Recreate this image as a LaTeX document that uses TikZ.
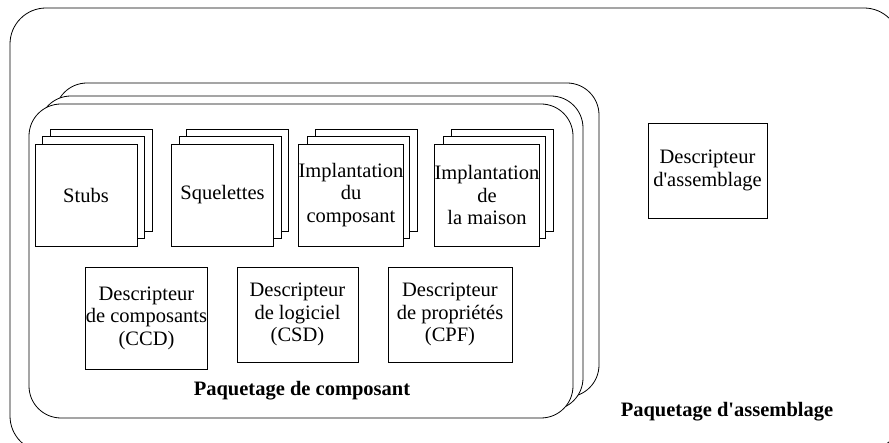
\documentclass[tikz,border=0pt]{standalone}
\usepackage{fontspec}
\newfontfamily\ser{Liberation Serif}
\begin{document}
\begin{tikzpicture}[x=1pt,y=-1pt,
  txt/.style={font=\ser\fontsize{20.5}{22.5}\selectfont, align=center},
  lbl/.style={font=\ser\bfseries\fontsize{20.5}{22.5}\selectfont, inner sep=0pt},
  doc/.style={draw, fill=white, line width=0.8pt, minimum width=102pt, minimum height=102pt, inner sep=0pt, txt},
  desc/.style={draw, fill=white, line width=0.8pt, inner sep=0pt, txt},
  pkg/.style={draw, fill=white, rounded corners=32pt, line width=0.8pt, minimum width=544pt, minimum height=314pt, inner sep=0pt},
  outerbox/.style={draw, rounded corners=36pt, line width=0.8pt, minimum width=890pt, minimum height=444pt, inner sep=0pt}]
\useasboundingbox (0,0) rectangle (889,443);
% outer assembly package
\node[outerbox] (asm) at (455,230) {};
% component package stack
\node[pkg] (pkgC) at (327,240) {};
\node[pkg] (pkgB) at (311,253) {};
\node[pkg] (pkgA) at (301,261) {};
% document stacks
\foreach \n/\cx in {stubs/86, sq/222.5, impc/351, impm/487} {
  \node[doc] (\n3) at (\cx+15,180) {};
  \node[doc] (\n2) at (\cx+7.5,187.5) {};
}
\node[doc] (stubs) at (86,195) {Stubs};
\node[doc] (sq) at (222.5,195) {Squelettes};
\node[doc] (impc) at (351,195) {\raisebox{0pt}[0pt][0pt]{}Implantation\\du\\composant};
\node[doc] (impm) at (487,195) {Implantation\\de\\la maison};
% descriptors
\node[desc, minimum width=119pt, minimum height=102pt] (ccd) at (146.5,318) {Descripteur\\de composants\\(CCD)};
\node[desc, minimum width=121pt, minimum height=95pt] (csd) at (297.5,314.5) {Descripteur\\de logiciel\\(CSD)};
\node[desc, minimum width=124pt, minimum height=95pt] (cpf) at (450,314.5) {Descripteur\\de propriétés\\(CPF)};
\node[desc, minimum width=119pt, minimum height=95pt] (dasm) at (707.5,170.5) {Descripteur\\d'assemblage};
% labels
\node[lbl] (lpc) at (302,391) {Paquetage de composant};
\node[lbl] (lpa) at (727,412) {Paquetage d'assemblage};
\end{tikzpicture}
\end{document}
